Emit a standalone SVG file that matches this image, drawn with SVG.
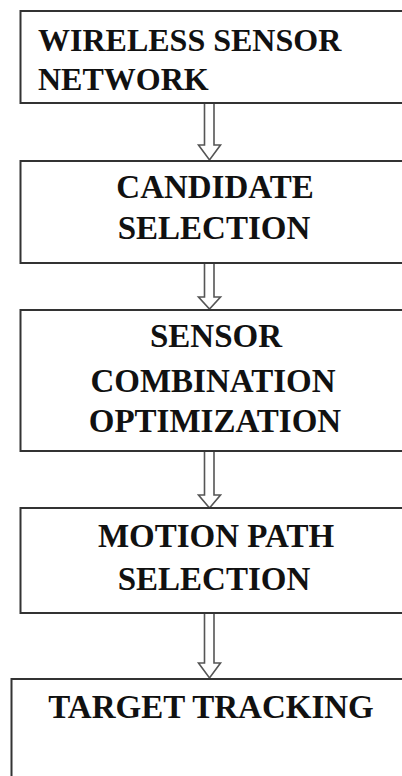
<svg xmlns="http://www.w3.org/2000/svg" width="402" height="776" viewBox="0 0 402 776">
<style>
.box{fill:#fff;stroke:#333;stroke-width:2}
.arr{fill:#fff;stroke:#555;stroke-width:1.6;stroke-linejoin:miter}
.t{font-family:"Liberation Serif","Times New Roman",serif;font-weight:bold;font-size:33px;fill:#111}
.s{font-size:32px}
.c{text-anchor:middle}
</style>
<rect width="402" height="776" fill="#fff"/>
<g id="connectors">
<polygon class="arr" points="204.5,103 204.5,145 198.5,145 209.5,160 220.5,145 214,145 214,103"/>
<polygon class="arr" points="204.5,263 204.5,297 198.5,297 209.5,309 220.5,297 214,297 214,263"/>
<polygon class="arr" points="204.5,451 204.5,495 198.5,495 209.5,508 220.5,495 214,495 214,451"/>
<polygon class="arr" points="204.5,613 204.5,663 198.5,663 209.5,678 220.5,663 214,663 214,613"/>
</g>
<g id="wsn">
<rect class="box" x="20.5" y="11" width="400" height="92"/>
<text class="t s" x="38" y="51">WIRELESS SENSOR</text>
<text class="t s" x="38" y="90">NETWORK</text>
</g>
<g id="candidate">
<rect class="box" x="20.5" y="161" width="400" height="102"/>
<text class="t c" x="215" y="198">CANDIDATE</text>
<text class="t c" x="214" y="239">SELECTION</text>
</g>
<g id="sensor">
<rect class="box" x="20.5" y="310" width="400" height="141"/>
<text class="t c" x="216" y="347">SENSOR</text>
<text class="t c" x="213" y="392">COMBINATION</text>
<text class="t c" x="215" y="432">OPTIMIZATION</text>
</g>
<g id="motion">
<rect class="box" x="20.5" y="508" width="400" height="105"/>
<text class="t c" x="216" y="547">MOTION PATH</text>
<text class="t c" x="214" y="590">SELECTION</text>
</g>
<g id="target">
<rect class="box" x="11.5" y="679" width="410" height="120"/>
<text class="t c" x="211" y="718">TARGET TRACKING</text>
</g>
</svg>
